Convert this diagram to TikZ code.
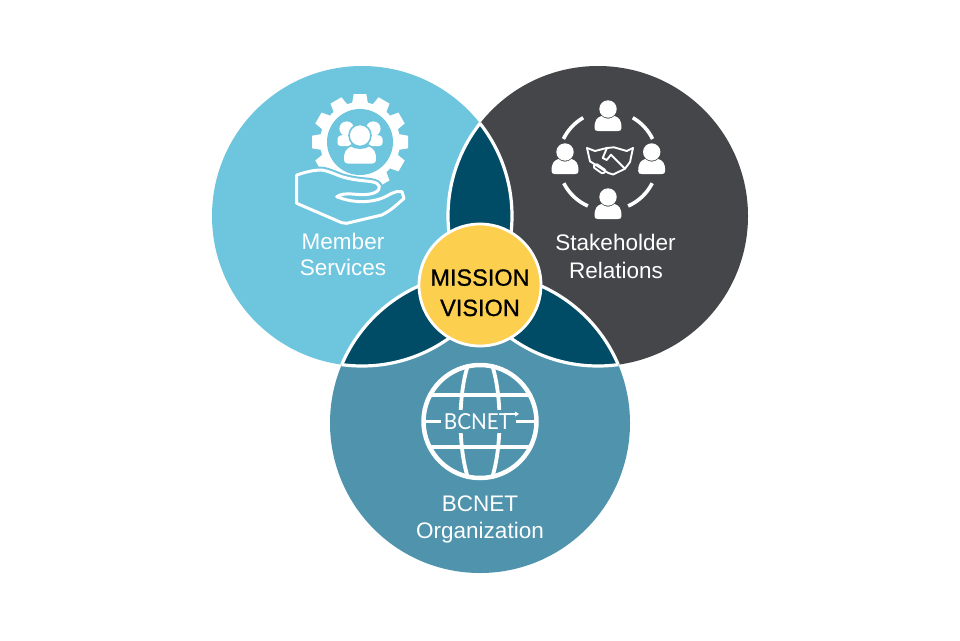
\documentclass[tikz,border=0pt]{standalone}
\usepackage{fontspec}
\setmainfont{Liberation Sans}
\newfontfamily\medfont[FakeBold=0.8]{Liberation Sans}
\newfontfamily\logofont[FakeStretch=0.94]{Lato}
\definecolor{cLight}{HTML}{6EC5DE}
\definecolor{cDark}{HTML}{454649}
\definecolor{cTeal}{HTML}{4F93AD}
\definecolor{cLens}{HTML}{004B66}
\definecolor{cGold}{HTML}{FCCF4F}
\tikzset{
  venn/.style={circle,minimum size=300pt,inner sep=0pt,outer sep=0pt},
  label text/.style={anchor=base,inner sep=0pt,text=white,font=\fontsize{22.5pt}{24pt}\selectfont},
  core text/.style={anchor=base,inner sep=0pt,text=black,font=\medfont\fontsize{23.5pt}{26pt}\selectfont},
  persona/.pic={
    \fill[white] (0,-1) circle[radius=8.7pt];
    \fill[white] (-13.5,18) .. controls (-13.5,10) and (-11,7.5) .. (-6.5,6) .. controls (-3,9.5) and (3,9.5) .. (6.5,6)
      .. controls (11,7.5) and (13.5,10) .. (13.5,18) .. controls (13.5,20.5) and (12,21) .. (10,21)
      -- (-10,21) .. controls (-12,21) and (-13.5,20.5) .. (-13.5,18) -- cycle;
  },
  globeline/.style={draw=white,line width=3.8pt},
  ringarc/.style={draw=white,line width=3.6pt},
  shake/.style={draw=white,line width=1.9pt,line join=round,line cap=round},
  lensedge/.style={draw=white,line width=3.2pt},
}
\begin{document}
\begin{tikzpicture}[x=1pt,y=1pt,yscale=-1]
\useasboundingbox (0,0) rectangle (960,640);
\fill[white] (0,0) rectangle (960,640);
% circles
\node[venn,fill=cLight] (left) at (362,216) {};
\node[venn,fill=cDark] (right) at (598,216) {};
\node[venn,fill=cTeal] (bottom) at (480,423) {};
% lenses
\begin{scope}
  \clip (362,216) circle[radius=150pt];
  \fill[cLens] (598,216) circle[radius=150pt];
  \draw[lensedge] (598,216) circle[radius=150pt];
\end{scope}
\begin{scope}
  \clip (598,216) circle[radius=150pt];
  \draw[lensedge] (362,216) circle[radius=150pt];
\end{scope}
\begin{scope}
  \clip (362,216) circle[radius=150pt];
  \fill[cLens] (480,423) circle[radius=150pt];
  \draw[lensedge] (480,423) circle[radius=150pt];
\end{scope}
\begin{scope}
  \clip (480,423) circle[radius=150pt];
  \draw[lensedge] (362,216) circle[radius=150pt];
\end{scope}
\begin{scope}
  \clip (598,216) circle[radius=150pt];
  \fill[cLens] (480,423) circle[radius=150pt];
  \draw[lensedge] (480,423) circle[radius=150pt];
\end{scope}
\begin{scope}
  \clip (480,423) circle[radius=150pt];
  \draw[lensedge] (598,216) circle[radius=150pt];
\end{scope}
% centre
\node[circle,minimum size=122pt,inner sep=0pt,fill=cGold,draw=white,line width=2.8pt] (core) at (480,285) {};
\node[core text] (mission) at (480,285.7) {MISSION};
\node[core text] (vision) at (480,316) {VISION};
% labels
\node[label text] (member) at (343,249) {Member};
\node[label text] (services) at (343,275.5) {Services};
\node[label text] (stake) at (615.5,250) {Stakeholder};
\node[label text] (relations) at (616,278) {Relations};
\node[label text] (bcnet) at (480,511) {BCNET};
\node[label text] (org) at (480,538) {Organization};
% gear
\fill[white] (360,142) circle[radius=40pt];
\foreach \a in {0,30,...,330}{
  \fill[white,shift={(360,142)},rotate=\a] (-8,-38) -- (-6.3,-48) -- (6.3,-48) -- (8,-38) -- cycle;
}
\fill[cLight] (360,142) circle[radius=33pt];
% gear people
\fill[white] (346.7,128.7) circle[radius=7.3pt];
\fill[white] (373.3,128.7) circle[radius=7.3pt];
\fill[white,rounded corners=3pt] (337.5,146) -- (337.5,136) -- (350,134) -- (352,146) -- cycle;
\fill[white,rounded corners=3pt] (382.5,146) -- (382.5,136) -- (370,134) -- (368,146) -- cycle;
\draw[cLight,line width=1.6pt,fill=white] (360,135.5) circle[radius=11pt];
\draw[cLight,line width=1.6pt,fill=white] (343,160) .. controls (343,152) and (345,148) .. (351,145.5)
  .. controls (355,149) and (365,149) .. (369,145.5) .. controls (375,148) and (377,152) .. (377,160)
  .. controls (377,163) and (375,164.5) .. (372,164.5) -- (348,164.5) .. controls (345,164.5) and (343,163) .. (343,160) -- cycle;
% hand
\path[fill=cLight,draw=cLight,line width=7pt,line join=round]
  (296.7,175) -- (296.7,203.3) -- (341.7,222.7) -- (346.7,223.3) -- (381.7,215)
  .. controls (392,210) and (396,205) .. (404,198.5) -- (402,191.7) .. controls (395,190) and (390,195) .. (381.7,198.3)
  .. controls (372,202) and (355,204) .. (336.7,196.7) .. controls (345,191) and (358,196) .. (368.3,194.3)
  .. controls (380,193) and (382,186) .. (376.7,183.3) .. controls (370,180) and (360,182) .. (341.7,176.7)
  .. controls (332,173) and (328,171) .. (321.7,170) .. controls (312,170) and (303,173) .. (296.7,175) -- cycle;
\draw[white,line width=3pt,line join=round,line cap=round]
  (296.7,175) -- (296.7,203.3) -- (341.7,222.7) -- (346.7,223.3) -- (381.7,215)
  .. controls (392,210) and (396,205) .. (404,198.5) -- (402,191.7) .. controls (395,190) and (390,195) .. (381.7,198.3)
  .. controls (372,202) and (355,204) .. (336.7,196.7) .. controls (345,191) and (358,196) .. (368.3,194.3)
  .. controls (380,193) and (382,186) .. (376.7,183.3) .. controls (370,180) and (360,182) .. (341.7,176.7)
  .. controls (332,173) and (328,171) .. (321.7,170) .. controls (312,170) and (303,173) .. (296.7,175) -- cycle;
% stakeholder icon
\coordinate (ring) at (608,160.7);
\foreach \s/\e in {-120/-154,-60/-26,-207/-246,27/66}{
  \draw[ringarc] (ring) ++(\s:49.6) arc[start angle=\s,end angle=\e,radius=49.6pt];
}
\pic[transform shape] at (608,110) {persona};
\pic[transform shape] at (565,153) {persona};
\pic[transform shape] at (651.7,153) {persona};
\pic[transform shape] at (608,198) {persona};
% handshake
\draw[shake] (587,148) -- (595,151) -- (606.7,148) -- (614,147.3) -- (626.7,151) -- (633,148);
\draw[shake] (587,148) -- (590,161.3) -- (608.3,173) -- (613.3,174.5) -- (625,168.7) -- (630,162) -- (633,148);
\draw[shake] (606.7,148.5) -- (602.7,158) -- (606.7,160) -- (611,154.7) -- (625,168.7);
\draw[shake,rounded corners=1.5pt] (596,163.5) -- (606,170.5) -- (603,174) -- (593,167) -- cycle;
% globe
\draw[white,line width=4.5pt] (480,421.5) circle[radius=56.5pt];
\draw[globeline] (431,395) -- (529,395);
\draw[globeline] (431,447) -- (529,447);
\draw[globeline] (468,365) .. controls (458,395) and (458,447) .. (468,478);
\draw[globeline] (492,365) .. controls (502,395) and (502,447) .. (492,478);
\fill[cTeal] (441,410) rectangle (518,433);
\draw[globeline] (424,421.5) -- (441,421.5);
\draw[globeline] (516,421.5) -- (536,421.5);
\node[anchor=base,inner sep=0pt,text=white,font=\logofont\fontsize{22pt}{22pt}\selectfont] (logo) at (477.5,429) {BCNET};
\draw[white,line width=1.2pt] (504,414) -- (516,414);
\fill[white] (519,414) -- (515,411.5) -- (515,416.5) -- cycle;
\end{tikzpicture}
\end{document}
